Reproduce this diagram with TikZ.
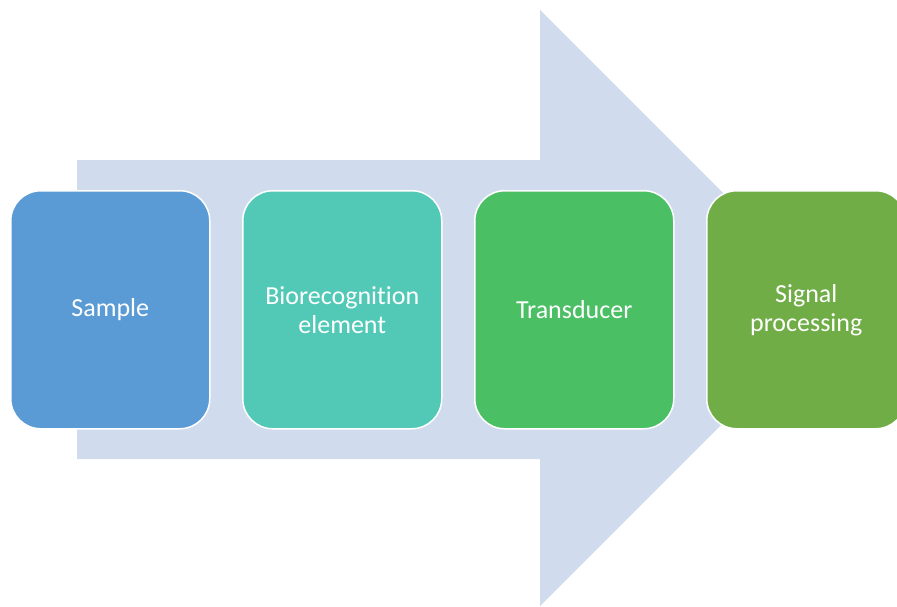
\documentclass[tikz,border=0pt]{standalone}
\usepackage{fontspec}
\setmainfont{Carlito}[Ligatures=NoCommon]
\definecolor{arrowfill}{RGB}{208,220,238}
\definecolor{sampleblue}{RGB}{91,155,213}
\definecolor{bioteal}{RGB}{82,201,183}
\definecolor{transgreen}{RGB}{74,191,100}
\definecolor{signalgreen}{RGB}{112,173,71}
\tikzset{
  stage/.style={draw=white, line width=1.5pt, rounded corners=30pt,
    minimum width=199pt, minimum height=238pt, anchor=north west,
    text=white, align=center, inner sep=0pt,
    font=\fontsize{26}{29}\selectfont}
}
\begin{document}
\begin{tikzpicture}[x=1pt,y=-1pt]
  \useasboundingbox (0,0) rectangle (897,606);
  % large background arrow
  \fill[arrowfill] (77,160) -- (540,160) -- (540,10) -- (838,308)
    -- (540,606) -- (540,459) -- (77,459) -- cycle;
  \begin{scope}
    \clip (0,0) rectangle (897,606);
    \node[stage, fill=sampleblue] (sample) at (10,190) {Sample};
    \node[stage, fill=bioteal] (bio) at (242,190) {Biorecognition\\element};
    \node[stage, fill=transgreen] (trans) at (474,190) {Transducer};
    \node[stage, fill=signalgreen] (signal) at (706,190) {Signal\\processing};
  \end{scope}
\end{tikzpicture}
\end{document}
